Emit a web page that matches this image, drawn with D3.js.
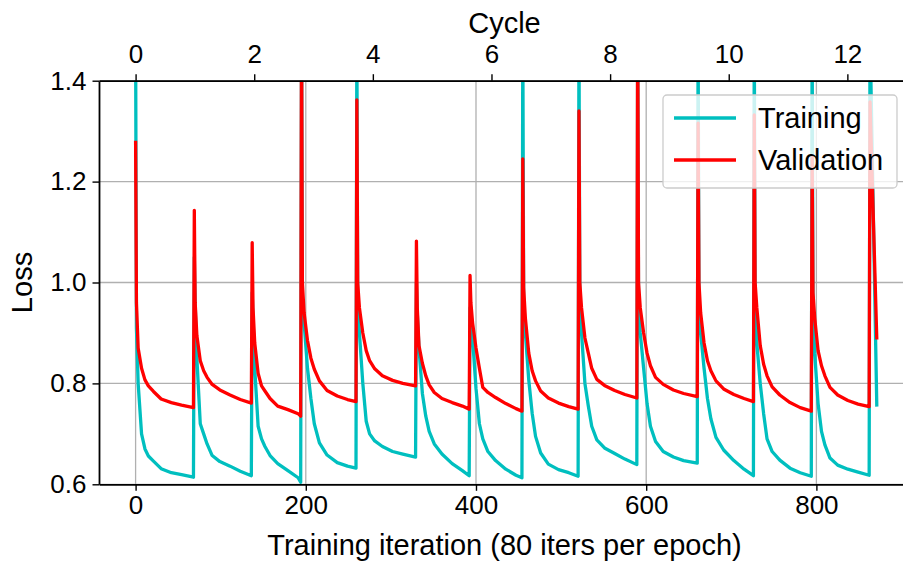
<!DOCTYPE html>
<html><head><meta charset="utf-8">
<script src="https://cdn.jsdelivr.net/npm/d3@7"></script>
<style>body{margin:0;background:#fff}svg{display:block}text{font-family:"Liberation Sans",Arial,Helvetica,sans-serif;fill:#000}</style>
</head><body>
<script>
// ---- data ----
const cycleStarts = [0, 69, 137, 195, 260, 330, 393, 455, 521, 590, 661, 727, 795, 863];
const lastIteration = 871;
// offsets (iterations after each restart) at which the curves were read
const sampleOffsets = [0, 1, 3, 7, 11, 15, 21, 30, 42, 54];
// per cycle: values at sampleOffsets, then the value at the last iteration of the cycle
const trainingLoss = [
  [1.50, 0.91, 0.80, 0.70, 0.670, 0.656, 0.646, 0.631, 0.623, 0.619, 0.614],
  [1.05, 0.96, 0.85, 0.72, 0.700, 0.680, 0.657, 0.645, 0.636, 0.626, 0.617],
  [0.98, 0.93, 0.83, 0.715, 0.690, 0.675, 0.657, 0.641, 0.627, 0.613, 0.604],
  [1.50, 0.97, 0.92, 0.83, 0.770, 0.720, 0.682, 0.658, 0.643, 0.636, 0.632],
  [1.50, 0.96, 0.90, 0.80, 0.725, 0.700, 0.686, 0.675, 0.665, 0.660, 0.654],
  [1.00, 0.94, 0.87, 0.78, 0.735, 0.705, 0.680, 0.660, 0.641, 0.627, 0.617],
  [0.95, 0.93, 0.89, 0.79, 0.720, 0.690, 0.665, 0.647, 0.630, 0.618, 0.613],
  [1.50, 0.97, 0.90, 0.807, 0.741, 0.695, 0.662, 0.640, 0.629, 0.623, 0.616],
  [1.50, 0.97, 0.90, 0.80, 0.755, 0.715, 0.688, 0.672, 0.661, 0.650, 0.639],
  [1.50, 0.96, 0.90, 0.83, 0.760, 0.715, 0.685, 0.665, 0.654, 0.647, 0.642],
  [1.50, 0.96, 0.90, 0.83, 0.770, 0.730, 0.693, 0.668, 0.647, 0.630, 0.617],
  [1.50, 0.96, 0.88, 0.80, 0.740, 0.690, 0.665, 0.648, 0.632, 0.623, 0.616],
  [1.50, 0.95, 0.86, 0.76, 0.705, 0.678, 0.652, 0.638, 0.630, 0.624, 0.618],
  [1.50, 0.754]
];
const validationLoss = [
  [1.281, 0.96, 0.87, 0.83, 0.807, 0.795, 0.784, 0.769, 0.762, 0.757, 0.752],
  [1.143, 0.96, 0.895, 0.845, 0.825, 0.812, 0.798, 0.787, 0.777, 0.768, 0.761],
  [1.079, 0.95, 0.88, 0.82, 0.795, 0.785, 0.770, 0.755, 0.748, 0.740, 0.735],
  [1.55, 1.00, 0.94, 0.885, 0.850, 0.828, 0.805, 0.786, 0.775, 0.768, 0.764],
  [1.362, 1.00, 0.95, 0.90, 0.865, 0.845, 0.829, 0.815, 0.806, 0.800, 0.795],
  [1.082, 0.95, 0.875, 0.84, 0.815, 0.797, 0.782, 0.770, 0.762, 0.755, 0.749],
  [1.014, 0.96, 0.92, 0.87, 0.830, 0.792, 0.782, 0.772, 0.760, 0.750, 0.745],
  [1.245, 0.99, 0.93, 0.86, 0.825, 0.805, 0.785, 0.771, 0.761, 0.754, 0.749],
  [1.34, 1.00, 0.95, 0.89, 0.860, 0.830, 0.808, 0.796, 0.786, 0.778, 0.771],
  [1.55, 1.00, 0.95, 0.90, 0.860, 0.835, 0.812, 0.798, 0.787, 0.780, 0.774],
  [1.316, 1.00, 0.94, 0.88, 0.845, 0.825, 0.805, 0.789, 0.778, 0.770, 0.764],
  [1.332, 1.00, 0.95, 0.875, 0.838, 0.815, 0.793, 0.777, 0.762, 0.752, 0.745],
  [1.25, 0.98, 0.93, 0.865, 0.835, 0.815, 0.792, 0.777, 0.766, 0.759, 0.754],
  [1.358, 0.887]
];
const xTicks = [0, 200, 400, 600, 800];
const yTicks = [0.6, 0.8, 1.0, 1.2, 1.4];
const cycleTicks = [0, 2, 4, 6, 8, 10, 12];
const itersPerCycleAxis = 69.7;
const seriesNames = ["Training", "Validation"];
const seriesColors = ["#00bfbf", "#ff0000"];

// ---- build point lists ----
function buildSeries(cycles) {
  const pts = [];
  cycles.forEach((vals, i) => {
    const start = cycleStarts[i];
    const end = i + 1 < cycleStarts.length ? cycleStarts[i + 1] - 1 : lastIteration;
    const n = vals.length - 1;
    for (let k = 0; k < n; k++) pts.push([start + sampleOffsets[k], vals[k]]);
    pts.push([end, vals[n]]);
  });
  return pts;
}
const series = [buildSeries(trainingLoss), buildSeries(validationLoss)];

// ---- layout ----
const W = 903, H = 562;
const L = 99, R = 910, T = 80.7, B = 484.3;
const x = d3.scaleLinear().domain([-43, 910]).range([L, R]);
const xc = d3.scaleLinear().domain([-43 / itersPerCycleAxis, 910 / itersPerCycleAxis]).range([L, R]);
const y = d3.scaleLinear().domain([0.6, 1.4]).range([B, T]);

const svg = d3.select("body").append("svg").attr("width", W).attr("height", H);
svg.append("rect").attr("width", W).attr("height", H).attr("fill", "#fff");
svg.append("defs").append("clipPath").attr("id", "clip")
  .append("rect").attr("x", L).attr("y", T).attr("width", R - L).attr("height", B - T);

// grid
const grid = svg.append("g").attr("stroke", "#b0b0b0").attr("stroke-width", 1.3);
grid.selectAll("line.h").data(yTicks).join("line").attr("class", "h")
  .attr("x1", L).attr("x2", R).attr("y1", d => y(d)).attr("y2", d => y(d));
grid.selectAll("line.v").data(xTicks).join("line").attr("class", "v")
  .attr("x1", d => x(d)).attr("x2", d => x(d)).attr("y1", T).attr("y2", B);

// lines
const line = d3.line().x(d => x(d[0])).y(d => y(d[1]));
const lg = svg.append("g").attr("clip-path", "url(#clip)");
series.forEach((s, i) => {
  lg.append("path").datum(s).attr("d", line).attr("fill", "none")
    .attr("stroke", seriesColors[i]).attr("stroke-width", 3.3)
    .attr("stroke-linejoin", "round").attr("stroke-linecap", "butt");
});

// axes
const fs = 26;
function styleAxis(g) {
  g.attr("font-family", null).attr("font-size", null);
  g.select(".domain").attr("stroke", "#000").attr("stroke-width", 1.8);
  g.selectAll(".tick line").attr("stroke", "#000").attr("stroke-width", 1.4);
  g.selectAll(".tick text").attr("font-size", fs);
}
svg.append("g").attr("transform", `translate(0,${B})`)
  .call(d3.axisBottom(x).tickValues(xTicks).tickSize(6.5).tickSizeOuter(0).tickPadding(5).tickFormat(d3.format("d")))
  .call(styleAxis);
svg.append("g").attr("transform", `translate(0,${T})`)
  .call(d3.axisTop(xc).tickValues(cycleTicks).tickSize(6.5).tickSizeOuter(0).tickPadding(11).tickFormat(d3.format("d")))
  .call(styleAxis);
svg.append("g").attr("transform", `translate(${L},0)`)
  .call(d3.axisLeft(y).tickValues(yTicks).tickSize(6.5).tickSizeOuter(0).tickPadding(6).tickFormat(d3.format(".1f")))
  .call(styleAxis);

// axis titles
const lfs = 29;
svg.append("text").attr("x", (L + R) / 2).attr("y", 555).attr("text-anchor", "middle")
  .attr("font-size", lfs).text("Training iteration (80 iters per epoch)");
svg.append("text").attr("x", (L + R) / 2).attr("y", 33).attr("text-anchor", "middle")
  .attr("font-size", lfs).text("Cycle");
svg.append("text").attr("transform", `translate(32,${(T + B) / 2}) rotate(-90)`)
  .attr("text-anchor", "middle").attr("font-size", lfs).text("Loss");

// legend
const leg = svg.append("g");
leg.append("rect").attr("x", 663).attr("y", 95).attr("width", 234).attr("height", 93).attr("rx", 4)
  .attr("fill", "#fff").attr("fill-opacity", 0.8).attr("stroke", "#cccccc").attr("stroke-width", 1.3);
seriesNames.forEach((name, i) => {
  const yy = 118 + i * 42;
  leg.append("line").attr("x1", 674).attr("x2", 736).attr("y1", yy).attr("y2", yy)
    .attr("stroke", seriesColors[i]).attr("stroke-width", 3.3);
  leg.append("text").attr("x", 758).attr("y", yy).attr("dy", "0.35em")
    .attr("font-size", lfs).text(name);
});
</script>
</body></html>
